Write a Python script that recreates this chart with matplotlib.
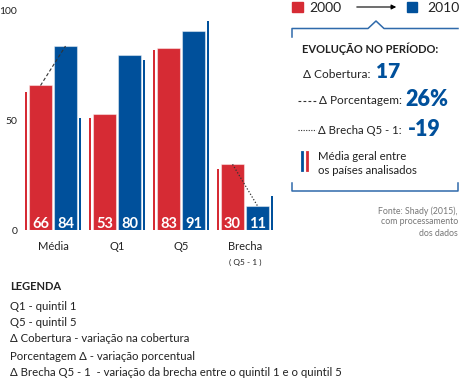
import matplotlib
matplotlib.use("Agg")
import matplotlib.pyplot as plt
from matplotlib.patches import Rectangle
import numpy as np

plt.rcParams['font.family'] = ['Lato', 'DejaVu Sans']

# ---- data ----
categories = ['Média', 'Q1', 'Q5', 'Brecha']
v2000 = [66, 53, 83, 30]
v2010 = [84, 80, 91, 11]
avg2000 = [63, 51, 82, 28]
avg2010 = [51, 77.5, 95.5, 15.5]
yticks = [0, 50, 100]
years = ['2000', '2010']
delta_cob = '17'
delta_pct = '26%'
delta_brecha = '-19'

RED = '#d62b34'
BLUE = '#00509b'
DARK = '#222222'

W, H = 462, 380
fig = plt.figure(figsize=(W / 100, H / 100), dpi=100)

# main chart axes (pixel-derived position)
left, right, bottom, top = 20, 280, 150, 369
ax = fig.add_axes([left / W, bottom / H, (right - left) / W, (top - bottom) / H])
ax.patch.set_alpha(0)
x = np.arange(len(categories))
bw = 0.36
off = 0.195
ax.bar(x - off, v2000, width=bw, color=RED, edgecolor=(1, 1, 1, 0.45), linewidth=0.8, zorder=2)
ax.bar(x + off, v2010, width=bw, color=BLUE, edgecolor=(1, 1, 1, 0.45), linewidth=0.8, zorder=2)
ax.bar(x - 0.42, avg2000, width=0.032, color=RED, linewidth=0, zorder=2)
ax.bar(x + 0.42, avg2010, width=0.032, color=BLUE, linewidth=0, zorder=2)

for xi, a, b in zip(x, v2000, v2010):
    ax.text(xi - off, 0.9, str(a), color='white', fontsize=10.5, fontweight='bold',
            ha='center', va='baseline', zorder=3)
    ax.text(xi + off, 0.9, str(b), color='white', fontsize=10.5, fontweight='bold',
            ha='center', va='baseline', zorder=3)

# connectors
ax.plot([x[0] - off, x[0] + off], [v2000[0], v2010[0]], ls=(0, (3, 2)), color='#333333', lw=0.8, zorder=4)
ax.plot([x[3] - off, x[3] + off], [v2000[3], v2010[3]], ls=(0, (1, 1.5)), color='#333333', lw=0.9, zorder=4)

ax.set_xlim(-0.516, -0.516 + (right - left) / 64)
ax.set_ylim(0, 100)
ax.set_yticks(yticks)
ax.set_yticklabels([str(t) for t in yticks], fontsize=7.5, color=DARK)
ax.set_xticks(x)
ax.set_xticklabels(categories, fontsize=8, color=DARK)
ax.tick_params(axis='both', length=0)
ax.tick_params(axis='x', pad=8)
ax.tick_params(axis='y', pad=2)
for s in ax.spines.values():
    s.set_visible(False)
ax.text(x[3], -14.8, '( Q5 - 1 )', fontsize=6, color=DARK, ha='center', va='center')

# overlay axes in pixel coords for annotation panel
ov = fig.add_axes([0, 0, 1, 1])
ov.set_xlim(0, W)
ov.set_ylim(H, 0)
ov.axis('off')
ov.patch.set_alpha(0)

ov.add_patch(Rectangle((292, 2), 11, 10, color=RED))
ov.text(309, 7.5, years[0], fontsize=10, color=DARK, va='center', ha='left')
ov.annotate('', xy=(399, 7), xytext=(354, 7),
            arrowprops=dict(arrowstyle='-|>', color='black', lw=0.8, mutation_scale=7))
ov.add_patch(Rectangle((407, 2), 10, 10, color=BLUE))
ov.text(427, 7.5, years[1], fontsize=10, color=DARK, va='center', ha='left')

BOX = '#2f6aab'
ov.plot([292, 292, 368, 376, 384, 458], [37, 28.5, 28.5, 21, 28.5, 28.5], color=BOX, lw=1.1)
ov.plot([292, 292, 458, 458], [183, 191, 191, 183], color=BOX, lw=1.1)

ov.text(302, 49, 'EVOLUÇÃO NO PERÍODO:', fontsize=8, fontweight='bold', color=DARK, va='center')
ov.text(303, 74, 'Δ Cobertura:', fontsize=8.6, color=DARK, va='center')
ov.text(376, 72, delta_cob, fontsize=15, fontweight='heavy', color=BLUE, va='center')
ov.plot([298, 316], [101, 101], ls=(0, (2.5, 2)), color='#333333', lw=0.8)
ov.text(319, 101, 'Δ Porcentagem:', fontsize=8.5, color=DARK, va='center')
ov.text(405, 99, delta_pct, fontsize=15.5, fontweight='heavy', color=BLUE, va='center')
ov.plot([298, 316], [130, 130], ls=(0, (1, 1.3)), color='#333333', lw=0.8)
ov.text(318, 130, 'Δ Brecha Q5 - 1:', fontsize=8.2, color=DARK, va='center')
ov.text(408, 129, delta_brecha, fontsize=15.5, fontweight='heavy', color=BLUE, va='center')
ov.plot([302, 302], [152, 170], color=BLUE, lw=2)
ov.plot([307, 307], [152, 170], color=RED, lw=2)
ov.text(318, 156, 'Média geral entre', fontsize=8.2, color=DARK, va='center')
ov.text(318, 171, 'os países analisados', fontsize=8.2, color=DARK, va='center')

for yy, s in zip([211, 222, 233], ['Fonte: Shady (2015),', 'com processamento', 'dos dados']):
    ov.text(458, yy, s, fontsize=6.3, color='#777777', ha='right', va='center')

ov.text(10, 287, 'LEGENDA', fontsize=8, fontweight='bold', color=DARK, va='center')
legend_lines = ['Q1 - quintil 1', 'Q5 - quintil 5', 'Δ Cobertura - variação na cobertura',
                'Porcentagem Δ - variação porcentual',
                'Δ Brecha Q5 - 1  - variação da brecha entre o quintil 1 e o quintil 5']
for yy, s in zip([307, 323, 339, 356, 373], legend_lines):
    ov.text(10, yy, s, fontsize=8.2, color=DARK, va='center')

fig.savefig('out.png', dpi=100)
